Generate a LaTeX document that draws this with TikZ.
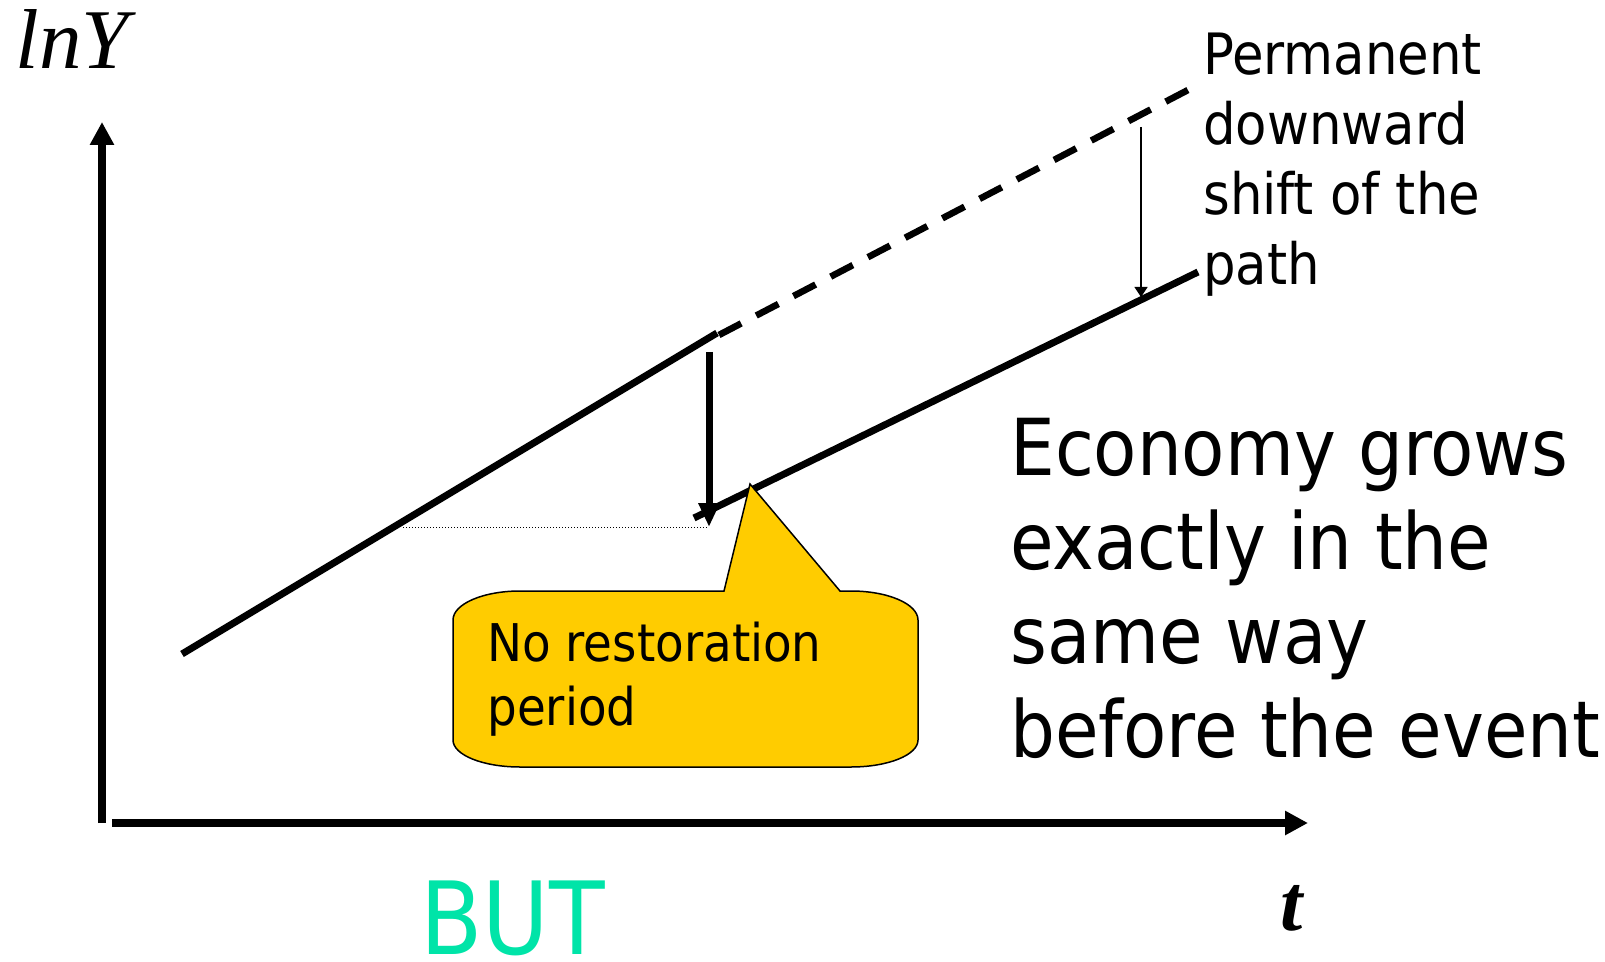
\documentclass[tikz,border=0pt]{standalone}
\usepackage{fontspec}
\setmainfont{DejaVu Sans Condensed}
\newfontfamily\timesfont{Liberation Serif}
\usetikzlibrary{arrows.meta}
\definecolor{calloutgold}{RGB}{255,204,0}
\definecolor{butgreen}{RGB}{0,228,168}
\begin{document}
\begin{tikzpicture}[x=0.5pt,y=-0.5pt,
  axisline/.style={line width=3.8pt,-{Triangle[width=11.5pt,length=11.5pt]}},
  growthline/.style={line width=3.5pt},
  dashline/.style={line width=3.3pt,dash pattern=on 12.5pt off 8.5pt},
  dropline/.style={line width=3.5pt,-{Triangle[width=10pt,length=12pt]}},
  shiftline/.style={line width=0.7pt,-{Triangle[width=6.5pt,length=5pt]}},
  dotline/.style={line width=0.5pt,dash pattern=on 0.5pt off 1pt},
  callout/.style={fill=calloutgold,draw=black,line width=0.75pt},
  txt/.style={inner sep=0pt,anchor=base west,align=left}]
\useasboundingbox (0,0) rectangle (1605,962);
% axes
\coordinate (ybot) at (102,823);
\coordinate (ytop) at (102,122);
\coordinate (xleft) at (112,823);
\coordinate (xright) at (1308,823);
\draw[axisline] (ybot) -- (ytop);
\draw[axisline] (xleft) -- (xright);
% paths
\coordinate (a0) at (182,654);
\coordinate (a1) at (717,333);
\coordinate (d0) at (719,335);
\coordinate (d1) at (1188,90);
\coordinate (b0) at (694,518);
\coordinate (b1) at (1198,272);
\draw[growthline] (a0) -- (a1);
\draw[dashline] (d0) -- (d1);
\draw[growthline] (b0) -- (b1);
% arrows
\coordinate (dropTop) at (709,352);
\coordinate (dropTip) at (709,527);
\coordinate (dotStart) at (403,527);
\draw[dotline] (dotStart) -- (dropTip);
\draw[dropline] (dropTop) -- (dropTip);
\coordinate (shiftTop) at (1141,127);
\coordinate (shiftTip) at (1141,297);
\draw[shiftline] (shiftTop) -- (shiftTip);
% callout
\coordinate (ptip) at (750,484);
\draw[callout] (724,591) -- (ptip) -- (840,591) -- (851,591)
  .. controls (888,591) and (918,604) .. (918,620) -- (918,740)
  .. controls (918,755) and (888,767) .. (851,767) -- (520,767)
  .. controls (483,767) and (453,755) .. (453,740) -- (453,620)
  .. controls (453,604) and (483,591) .. (520,591) -- cycle;
\node[txt,font=\fontsize{26pt}{32pt}\selectfont] (calltext) at (487,725) {No restoration\\period};
% texts
\node[txt,font=\timesfont\itshape\fontsize{42.5pt}{50pt}\selectfont] (lny) at (15,69) {lnY};
\node[txt,font=\timesfont\bfseries\itshape\fontsize{40pt}{48pt}\selectfont] (tlab) at (1280,930) {t};
\node[txt,font=\fontsize{28.5pt}{35pt}\selectfont] (perm) at (1203,285) {Permanent\\downward\\shift of the\\path};
\node[txt,font=\fontsize{39.3pt}{47pt}\selectfont] (econ) at (1010,757) {Economy grows\\exactly in the\\same way\\before the event};
\node[txt,font=\fontsize{50.5pt}{56pt}\selectfont,text=butgreen] (but) at (420,954) {BUT};
\end{tikzpicture}
\end{document}
